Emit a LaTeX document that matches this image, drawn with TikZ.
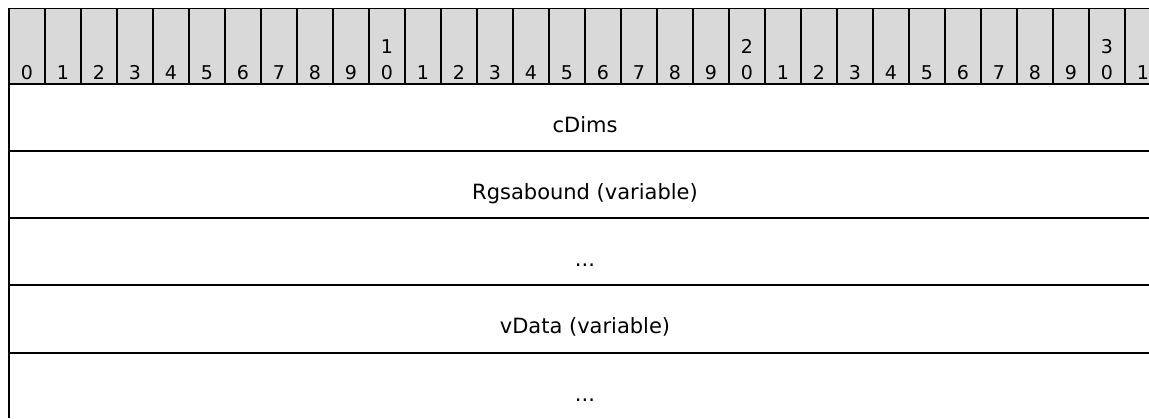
\documentclass[tikz,border=0pt]{standalone}
\usepackage{fontspec}
\setmainfont{DejaVu Sans}
\usepackage{xcolor}
\usepackage{tikz}

\definecolor{hdrgray}{HTML}{D9D9D9}
\tikzset{
  bitnum/.style={anchor=base, inner sep=0pt, font=\fontsize{19}{22}\selectfont},
  field/.style={anchor=base, inner sep=0pt, font=\fontsize{21}{25}\selectfont},
  rule/.style={line width=1.8pt},
}

\begin{document}
\begin{tikzpicture}[x=1pt,y=-1pt]
\useasboundingbox (0,0) rectangle (1149,418);
\clip (0,0) rectangle (1149,418);

% bit numbers
\fill[hdrgray] (9,8) rectangle (1161,84);
\draw[line width=1pt] (9,8) -- (1161,8);
\foreach \i in {0,...,31}{
  \pgfmathtruncatemacro\u{mod(\i,10)}
  \pgfmathtruncatemacro\t{\i/10}
  \draw[line width=1.3pt] ({9+36*\i},8) -- ({9+36*\i},84);
  \node[bitnum] (b\i) at ({27+36*\i},79) {\u};
  \ifnum\u=0 \ifnum\i>0
    \node[bitnum] (t\i) at ({27+36*\i},53) {\t};
  \fi\fi
}

% rows
\draw[rule] (9,8) -- (9,418);
\foreach \y in {84,151,218,285,353}
  \draw[rule] (9,\y) -- (1161,\y);

\node[field] (cdims) at (585,132) {cDims};
\node[field] (rgsa) at (585,199) {Rgsabound (variable)};
\node[field] (more1) at (585,266) {...};
\node[field] (vdata) at (585,333) {vData (variable)};
\node[field] (more2) at (585,401) {...};
\end{tikzpicture}
\end{document}
